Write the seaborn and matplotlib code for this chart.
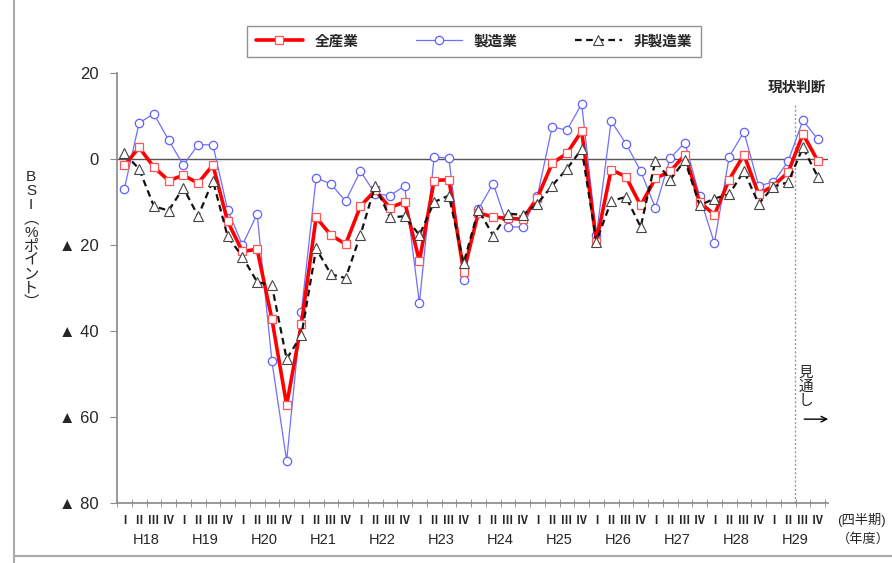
import matplotlib
matplotlib.use("Agg")
import matplotlib.pyplot as plt
import numpy as np
import pandas as pd
import seaborn as sns
from matplotlib.lines import Line2D

# quarterly BSI, H18 I .. H29 IV (48 quarters)
years = ["H18", "H19", "H20", "H21", "H22", "H23", "H24", "H25", "H26", "H27", "H28", "H29"]
quarters = ["Ⅰ", "Ⅱ", "Ⅲ", "Ⅳ"]

all_industry = [-1.5, 2.7, -1.9, -5.0, -3.8, -5.6, -1.4, -14.5, -21.5, -21.0, -37.2, -57.2,
                -38.4, -13.6, -17.7, -19.8, -11.0, -7.3, -11.3, -10.0, -23.7, -5.0, -4.8, -26.2,
                -12.5, -13.5, -13.8, -14.0, -9.0, -1.0, 1.3, 6.5, -19.2, -2.5, -4.1, -10.8,
                -4.5, -2.9, 1.0, -10.0, -13.0, -4.8, 1.0, -8.2, -6.2, -3.1, 5.8, -0.4]
manufacturing = [-6.9, 8.4, 10.5, 4.4, -1.4, 3.3, 3.3, -11.8, -20.0, -12.8, -47.0, -70.2,
                 -35.5, -4.4, -5.8, -9.8, -2.8, -8.1, -8.5, -6.3, -33.5, 0.5, 0.2, -28.2,
                 -11.7, -5.7, -15.8, -15.8, -8.6, 7.5, 6.7, 12.8, -17.7, 8.8, 3.6, -2.8,
                 -11.4, 0.2, 3.8, -8.7, -19.6, 0.5, 6.3, -6.2, -5.4, -0.5, 9.0, 4.6]
non_manufacturing = [1.3, -2.3, -11.0, -12.0, -6.7, -13.3, -5.0, -18.0, -22.7, -28.6, -29.4, -46.5,
                     -41.0, -20.8, -26.8, -27.7, -17.7, -6.2, -13.6, -13.3, -17.7, -10.0, -8.5, -24.2,
                     -11.8, -17.8, -12.7, -13.0, -10.4, -6.2, -2.3, 2.3, -19.2, -9.8, -8.8, -15.8,
                     -0.4, -4.8, -0.3, -10.8, -9.2, -8.2, -2.8, -10.4, -6.4, -5.4, 2.7, -4.1]

idx = np.arange(len(all_industry))
df = pd.DataFrame({"q": idx, "全産業": all_industry, "製造業": manufacturing, "非製造業": non_manufacturing})

sns.set_style("ticks")
plt.rcParams['font.family'] = ['Liberation Sans', 'Noto Sans CJK JP']

fig = plt.figure(figsize=(8.92, 5.63), dpi=100)
ax = fig.add_axes([117 / 892, 1 - 503 / 563, (828 - 117) / 892, 430 / 563])

sns.lineplot(data=df, x="q", y="製造業", ax=ax, color="#6f6fff", lw=0.9, marker="o", ms=6,
             markerfacecolor="white", markeredgecolor="#6060ff", markeredgewidth=0.9,
             label="製造業", zorder=3)
sns.lineplot(data=df, x="q", y="全産業", ax=ax, color="#ff0000", lw=2.6, marker="s", ms=5.5,
             markerfacecolor="white", markeredgecolor="#ff5555", markeredgewidth=0.9,
             label="全産業", zorder=4)
sns.lineplot(data=df, x="q", y="非製造業", ax=ax, color="#111111", lw=1.6, linestyle=(0, (3, 2)),
             marker="^", ms=6.5, markerfacecolor="white", markeredgecolor="#444444",
             markeredgewidth=0.8, label="非製造業", zorder=5)

ax.axhline(0, color="#555555", lw=1.0, zorder=1)
ax.set_xlim(-0.5, 47.7)
ax.set_ylim(-80, 20)

yt = [20, 0, -20, -40, -60, -80]
ax.set_yticks(yt)
ax.set_yticklabels([str(v) if v >= 0 else "▲ " + str(-v) for v in yt], fontsize=12)
ax.tick_params(axis="y", direction="out", length=5, color="#888888", pad=8)

ax.set_xticks(idx)
ax.set_xticklabels(quarters * len(years), fontsize=8, fontweight="bold")
ax.tick_params(axis="x", length=0, pad=9)
ax.set_xticks(np.arange(-0.5, 48, 1), minor=True)
ax.tick_params(axis="x", which="minor", direction="inout", length=6, color="#888888")
tr = ax.get_xaxis_transform()
for k, yr in enumerate(years):
    ax.text(4 * k + 1.5, -0.085, yr, transform=tr, ha="center", va="center", fontsize=10.5)
ax.set_xlabel("")
ax.set_ylabel("")

for s in ["top", "right"]:
    ax.spines[s].set_visible(False)
for s in ["left", "bottom"]:
    ax.spines[s].set_color("#888888")
    ax.spines[s].set_linewidth(1.2)

# forecast marker
ax.plot([45.45, 45.45], [12.5, -80], color="#999999", lw=1.0, linestyle=(0, (1.5, 1.5)), zorder=2)
ax.text(45.6, 16.5, "現状判断", ha="center", va="center", fontsize=10.5, fontweight="bold")
ax.text(46.2, -53, "見\n通\nし", ha="center", va="center", fontsize=10.5, linespacing=1.0)
ax.annotate("", xy=(47.9, -60.5), xytext=(45.9, -60.5),
            arrowprops=dict(arrowstyle="->", color="black", lw=1.0), annotation_clip=False)

ax.text(48.3, -0.04, "(四半期)", transform=tr, ha="left", va="center", fontsize=9.5, clip_on=False)
ax.text(48.3, -0.085, "（年度）", transform=tr, ha="left", va="center", fontsize=9.5, clip_on=False)

fig.text(31 / 892, 1 - 240 / 563, "B\nS\nI\n︵\n%\nポ\nイ\nン\nト\n︶", ha="center", va="center",
         fontsize=11, linespacing=1.0)

h, l = ax.get_legend_handles_labels()
order = [l.index("全産業"), l.index("製造業"), l.index("非製造業")]
leg = ax.legend([h[i] for i in order], [l[i] for i in order], ncol=3, mode="expand",
                bbox_to_anchor=(240 / 892, 1 - 60 / 563, 468 / 892, 37 / 563), bbox_transform=fig.transFigure,
                loc="center", frameon=True, fancybox=False, edgecolor="#777777", fontsize=10.5,
                handlelength=3.2, borderpad=0.6)
for t in leg.get_texts():
    t.set_fontweight("bold")

fig.add_artist(Line2D([14 / 892, 14 / 892], [0, 1], color="#aaaaaa", lw=1.5))
fig.add_artist(Line2D([14 / 892, 1], [1 - 556 / 563, 1 - 556 / 563], color="#aaaaaa", lw=1.5))

fig.savefig("out.png", dpi=100)
